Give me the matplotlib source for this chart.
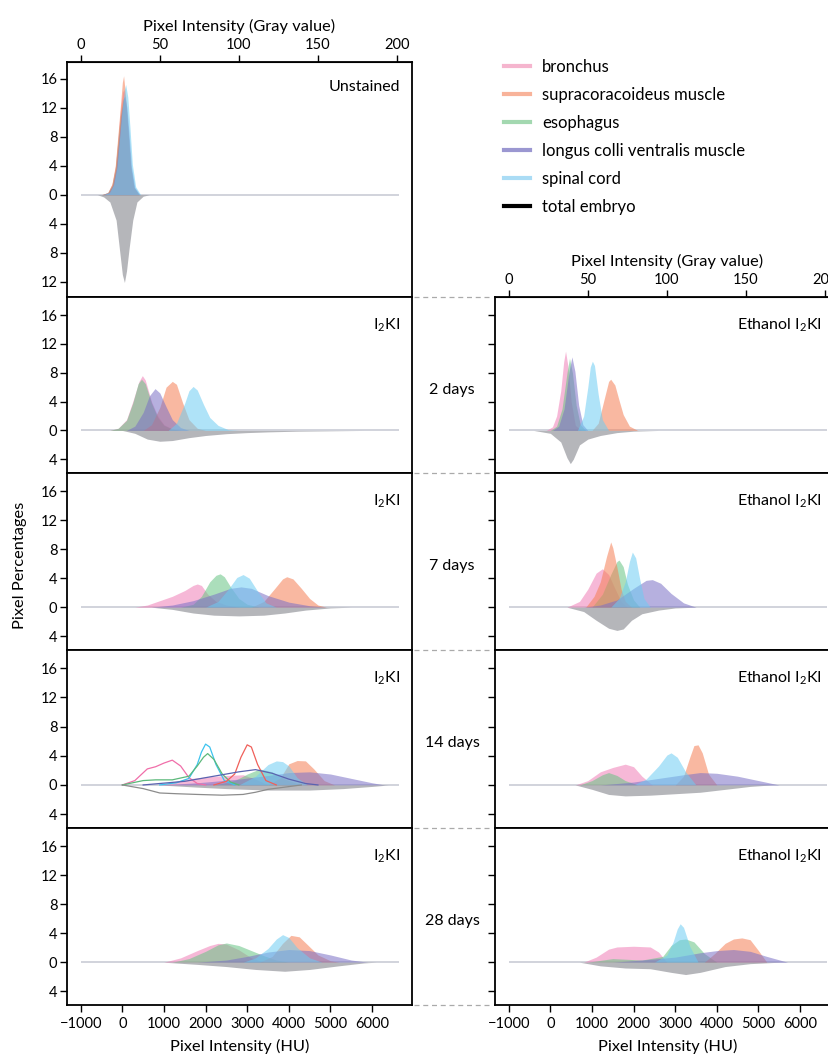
import matplotlib.pyplot as plt
from matplotlib.lines import Line2D

plt.rcParams['font.family'] = ['Lato', 'DejaVu Sans']
plt.rcParams['mathtext.default'] = 'regular'

tissues = ['bronchus', 'supracoracoideus muscle', 'esophagus',
           'longus colli ventralis muscle', 'spinal cord']
fill_colors = ['#f07fb6', '#f57f55', '#67c484', '#7a70c6', '#6dcdf3']
legend_colors = ['#f5b5ce', '#f8b39a', '#a3d8b0', '#9b97d1', '#aadcf5']
embryo_color = '#8e8f96'

days = ['2 days', '7 days', '14 days', '28 days']
hu_ticks = [-1000, 0, 1000, 2000, 3000, 4000, 5000, 6000]
gray_ticks = [0, 50, 100, 150, 200]
hu_span = [-1000, 6650]

# each curve: (HU values, pixel percentage)
# --- unstained ---
unst_pink = ([-500, -350, -250, -170, -110, -50, 10, 40, 90, 140, 200, 280, 400],
             [0, 0.3, 1.4, 3.8, 7.5, 11.5, 14.2, 14.5, 12.5, 8.5, 3.8, 1.0, 0])
unst_orange = ([-500, -350, -250, -170, -110, -50, 0, 30, 80, 130, 200, 280, 400],
               [0, 0.3, 1.5, 4, 8, 12, 15.5, 16.4, 13.5, 9.5, 4, 1, 0])
unst_green = ([-500, -350, -250, -170, -110, -50, 10, 40, 90, 140, 200, 280, 400],
              [0, 0.3, 1.3, 3.6, 7.2, 10.8, 13, 13.5, 12, 8.5, 3.8, 1, 0])
unst_purple = ([-480, -330, -230, -150, -90, -30, 30, 60, 110, 160, 220, 300, 420],
               [0, 0.3, 1.3, 3.6, 7.2, 11, 13.3, 13.6, 12, 8.5, 3.8, 1, 0])
unst_blue = ([-460, -310, -210, -130, -70, -10, 50, 80, 130, 180, 240, 320, 440],
             [0, 0.3, 1.4, 3.8, 7.6, 11.5, 14.5, 15.2, 13.5, 9.5, 4.2, 1.1, 0])
unst_embryo = ([-600, -450, -300, -150, -60, 0, 50, 100, 160, 250, 350, 500, 650],
               [0, 0.3, 1, 3.5, 8, 11, 12.1, 10.5, 7.5, 3.5, 1, 0.2, 0])

# --- I2KI, 2 days ---
i2_d2_pink = ([-300, -100, 100, 250, 400, 480, 550, 700, 850, 1000, 1200, 1400],
              [0, 0.3, 1.5, 4, 6.8, 7.6, 7, 4, 2, 0.8, 0.2, 0])
i2_d2_orange = ([500, 700, 900, 1050, 1200, 1300, 1450, 1600, 1800, 2000],
                [0, 0.8, 3.2, 6, 6.8, 6.4, 3.8, 1.5, 0.3, 0])
i2_d2_green = ([-300, -100, 100, 250, 380, 460, 550, 700, 850, 1000, 1200, 1400],
               [0, 0.3, 1.4, 3.8, 6.5, 7.1, 6.5, 3.8, 1.8, 0.7, 0.2, 0])
i2_d2_purple = ([100, 300, 500, 650, 785, 900, 1050, 1200, 1400, 1600],
                [0, 0.6, 2.5, 4.8, 5.8, 5.2, 3.3, 1.5, 0.4, 0])
i2_d2_blue = ([1100, 1300, 1500, 1600, 1700, 1800, 1950, 2100, 2300, 2550, 2800],
              [0, 1, 3.8, 5.5, 6.1, 5.6, 3.6, 1.8, 0.7, 0.1, 0])
i2_d2_embryo = ([0, 300, 600, 900, 1200, 1600, 2000, 2500, 3000, 3500, 4200, 5000, 5800],
                [0, 0.4, 1.2, 1.5, 1.4, 1.0, 0.7, 0.45, 0.3, 0.2, 0.1, 0.05, 0])

# --- I2KI, 7 days ---
i2_d7_pink = ([300, 600, 900, 1200, 1500, 1700, 1800, 1900, 2050, 2250, 2500, 2800],
              [0, 0.3, 0.9, 1.5, 2.3, 3.0, 3.2, 3.0, 1.8, 0.8, 0.3, 0])
i2_d7_orange = ([3100, 3400, 3650, 3850, 3950, 4100, 4300, 4500, 4700, 4900],
                [0, 0.8, 2.5, 3.9, 4.2, 3.9, 2.6, 1.2, 0.3, 0])
i2_d7_green = ([1400, 1700, 1900, 2100, 2250, 2350, 2450, 2600, 2800, 3000, 3300],
               [0, 0.4, 1.5, 3.5, 4.4, 4.6, 4.2, 2.8, 1.2, 0.4, 0])
i2_d7_purple = ([700, 1200, 1700, 2200, 2600, 2850, 3100, 3500, 4000, 4500, 4900],
                [0, 0.3, 0.9, 1.8, 2.6, 2.8, 2.6, 1.6, 0.7, 0.2, 0])
i2_d7_blue = ([2000, 2300, 2550, 2750, 2900, 3050, 3250, 3450, 3700],
              [0, 0.8, 2.5, 4.1, 4.5, 4.0, 2.2, 0.6, 0])
i2_d7_embryo = ([700, 1200, 1700, 2200, 2800, 3400, 3900, 4400, 5000, 5500],
                [0, 0.3, 0.8, 1.1, 1.2, 1.1, 0.8, 0.4, 0.1, 0])

# --- I2KI, 14 days (filled) ---
i2_d14_pink = ([900, 1500, 2000, 2500, 2900, 3200, 3500],
               [0, 0.8, 1.1, 1.3, 1.4, 0.8, 0])
i2_d14_orange = ([3500, 3800, 4000, 4200, 4400, 4600, 4850, 5100],
                 [0, 1.0, 2.9, 3.35, 3.3, 2.2, 0.6, 0])
i2_d14_green = ([2200, 2700, 3000, 3300, 3600, 3900, 4300],
                [0, 0.6, 1.5, 2.2, 1.8, 0.8, 0])
i2_d14_purple = ([900, 1800, 2800, 3500, 4000, 4500, 5000, 5500, 6000, 6300],
                 [0, 0.3, 0.8, 1.3, 1.7, 1.8, 1.5, 0.9, 0.3, 0])
i2_d14_blue = ([2800, 3200, 3500, 3700, 3850, 4000, 4200, 4450],
               [0, 1.2, 2.8, 3.3, 3.2, 2.6, 1.0, 0])
i2_d14_embryo = ([900, 1800, 2500, 3500, 4500, 5300, 6000, 6400],
                 [0, 0.3, 0.5, 0.7, 0.7, 0.5, 0.2, 0])
# --- I2KI, 14 days (outlines) ---
i2_d14_line_pink = ([0, 300, 600, 800, 1000, 1200, 1400, 1600, 1800, 2000],
                    [0, 0.6, 2.2, 2.5, 3.0, 3.4, 2.6, 1.0, 0.2, 0])
i2_d14_line_cyan = ([900, 1300, 1600, 1800, 1900, 2000, 2100, 2250, 2450, 2700],
                    [0, 0.3, 0.9, 2.8, 4.5, 5.6, 5.2, 2.8, 0.6, 0])
i2_d14_line_green = ([0, 500, 800, 1200, 1600, 1800, 1950, 2050, 2200, 2400, 2600, 2800],
                     [0, 0.6, 0.7, 0.7, 1.2, 2.6, 3.8, 4.3, 3.5, 1.5, 0.4, 0])
i2_d14_line_red = ([2200, 2500, 2700, 2850, 3000, 3100, 3250, 3450, 3700],
                   [0, 0.5, 1.5, 3.8, 5.5, 5.2, 2.8, 0.6, 0])
i2_d14_line_navy = ([500, 1500, 2200, 2800, 3200, 3600, 4000, 4400, 4700],
                    [0, 0.5, 1.2, 1.8, 2.1, 1.6, 0.8, 0.2, 0])
i2_d14_line_gray = ([0, 500, 900, 1300, 1800, 2400, 2900, 3200, 3500, 3900, 4300],
                    [0, 0.5, 1.1, 1.2, 1.3, 1.4, 1.3, 1.0, 0.6, 0.3, 0])

# --- I2KI, 28 days ---
i2_d28_pink = ([1000, 1400, 1800, 2100, 2300, 2500, 2800, 3100, 3400],
               [0, 0.6, 1.6, 2.3, 2.6, 2.5, 1.7, 0.6, 0])
i2_d28_orange = ([3300, 3600, 3850, 4050, 4250, 4450, 4700, 5000, 5200],
                 [0, 0.8, 2.6, 3.7, 3.5, 2.4, 1.0, 0.2, 0])
i2_d28_green = ([1200, 1600, 2000, 2300, 2500, 2800, 3100, 3400, 3700, 4000],
                [0, 0.5, 1.5, 2.4, 2.65, 2.3, 1.6, 0.9, 0.3, 0])
i2_d28_purple = ([1800, 2500, 3000, 3500, 4000, 4500, 5000, 5500, 5900],
                 [0, 0.3, 0.8, 1.4, 1.75, 1.6, 1.0, 0.3, 0])
i2_d28_blue = ([2900, 3200, 3500, 3700, 3850, 4000, 4200, 4500, 4800],
               [0, 0.6, 1.9, 3.2, 3.8, 3.4, 2.0, 0.6, 0])
i2_d28_embryo = ([1000, 1800, 2500, 3200, 3900, 4500, 5200, 5800, 6100],
                 [0, 0.3, 0.6, 1.0, 1.25, 1.0, 0.5, 0.1, 0])

# --- Ethanol I2KI, 2 days ---
et_d2_pink = ([-100, 50, 150, 250, 320, 365, 420, 500, 600, 750],
              [0, 0.5, 2.0, 5.5, 9.5, 11.0, 9.0, 4.0, 0.7, 0])
et_d2_orange = ([1000, 1150, 1300, 1400, 1450, 1550, 1650, 1750, 1900, 2100],
                [0, 1.0, 4.5, 6.8, 7.1, 6.3, 4.2, 2.2, 0.6, 0])
et_d2_green = ([0, 150, 280, 400, 460, 530, 620, 720, 850],
               [0, 0.6, 3, 8, 10, 8, 3.5, 0.8, 0])
et_d2_purple = ([50, 200, 330, 450, 518, 590, 680, 780, 900],
                [0, 0.6, 3, 8.2, 10.2, 8.2, 3.5, 0.8, 0])
et_d2_blue = ([650, 800, 900, 960, 1010, 1060, 1150, 1250, 1400],
              [0, 2.0, 6, 8.8, 9.6, 9.0, 5.0, 1.5, 0])
et_d2_embryo = ([-400, 0, 250, 400, 480, 550, 700, 900, 1200, 1600, 2000, 2600],
                [0, 0.4, 1.6, 3.8, 4.6, 4.0, 2.0, 1.2, 0.7, 0.3, 0.1, 0])

# --- Ethanol I2KI, 7 days ---
et_d7_pink = ([400, 700, 900, 1100, 1250, 1400, 1550, 1700, 1850],
              [0, 0.8, 2.5, 4.7, 5.3, 4.5, 2.6, 0.8, 0])
et_d7_orange = ([850, 1050, 1200, 1350, 1450, 1500, 1600, 1700, 1800, 1950],
                [0, 1.5, 3.5, 7, 9.0, 8.2, 5.5, 2.5, 0.8, 0])
et_d7_green = ([1000, 1250, 1450, 1600, 1650, 1750, 1850, 2000, 2150],
               [0, 1.8, 4.5, 6.3, 6.5, 5.6, 3.2, 1.0, 0])
et_d7_purple = ([800, 1200, 1600, 2000, 2300, 2450, 2650, 2900, 3200, 3500],
                [0, 0.3, 1.0, 2.6, 3.7, 3.8, 3.3, 1.9, 0.6, 0])
et_d7_blue = ([1450, 1650, 1800, 1900, 1970, 2050, 2150, 2250, 2400],
              [0, 1.2, 3.5, 6.3, 7.6, 6.8, 3.8, 1.2, 0])
et_d7_embryo = ([400, 800, 1100, 1400, 1600, 1750, 1950, 2200, 2600, 3000, 3500],
                [0, 0.6, 1.8, 2.9, 3.2, 3.0, 1.8, 0.9, 0.4, 0.1, 0])

# --- Ethanol I2KI, 14 days ---
et_d14_pink = ([600, 900, 1200, 1500, 1800, 2000, 2200, 2450],
               [0, 0.6, 1.8, 2.4, 2.85, 2.5, 1.2, 0])
et_d14_orange = ([3000, 3200, 3350, 3450, 3550, 3650, 3800, 4000],
                 [0, 1.2, 3.8, 5.4, 5.5, 4.4, 1.5, 0])
et_d14_green = ([700, 1000, 1250, 1400, 1600, 1800, 2100],
                [0, 0.6, 1.4, 1.7, 1.3, 0.6, 0])
et_d14_purple = ([1200, 2000, 2600, 3200, 3600, 4000, 4500, 5000, 5500],
                 [0, 0.4, 0.9, 1.4, 1.7, 1.6, 1.2, 0.6, 0])
et_d14_blue = ([2000, 2300, 2600, 2800, 2900, 3050, 3250, 3500],
               [0, 0.8, 2.6, 4.1, 4.4, 3.8, 1.8, 0])
et_d14_embryo = ([600, 1000, 1400, 1800, 2400, 3000, 3600, 4200, 4800, 5300],
                 [0, 0.6, 1.3, 1.5, 1.4, 1.2, 1.0, 0.6, 0.2, 0])

# --- Ethanol I2KI, 28 days ---
et_d28_pink = ([800, 1100, 1400, 1600, 2000, 2400, 2600, 2800],
               [0, 0.7, 1.8, 2.1, 2.2, 2.1, 1.4, 0])
et_d28_orange = ([3700, 3950, 4200, 4400, 4600, 4800, 5000, 5200],
                 [0, 1.2, 2.6, 3.2, 3.35, 3.1, 1.6, 0])
et_d28_green = ([900, 1500, 2200, 2700, 2900, 3100, 3250, 3450, 3700, 4000],
                [0, 0.5, 0.3, 0.8, 2.3, 3.1, 3.2, 2.8, 1.2, 0])
et_d28_purple = ([1500, 2200, 3000, 3600, 4000, 4400, 4800, 5200, 5700],
                 [0, 0.3, 0.7, 1.3, 1.6, 1.75, 1.5, 0.8, 0])
et_d28_blue = ([2500, 2800, 2950, 3050, 3120, 3200, 3350, 3550],
               [0, 1.0, 2.8, 4.6, 5.3, 4.8, 2.2, 0])
et_d28_embryo = ([700, 1200, 1800, 2400, 2900, 3250, 3600, 4200, 4800, 5500],
                 [0, 0.5, 0.8, 0.9, 1.4, 1.7, 1.4, 0.6, 0.2, 0])

left_panels = [
    [i2_d2_pink, i2_d2_orange, i2_d2_green, i2_d2_purple, i2_d2_blue, i2_d2_embryo],
    [i2_d7_pink, i2_d7_orange, i2_d7_green, i2_d7_purple, i2_d7_blue, i2_d7_embryo],
    [i2_d14_pink, i2_d14_orange, i2_d14_green, i2_d14_purple, i2_d14_blue, i2_d14_embryo],
    [i2_d28_pink, i2_d28_orange, i2_d28_green, i2_d28_purple, i2_d28_blue, i2_d28_embryo],
]
right_panels = [
    [et_d2_pink, et_d2_orange, et_d2_green, et_d2_purple, et_d2_blue, et_d2_embryo],
    [et_d7_pink, et_d7_orange, et_d7_green, et_d7_purple, et_d7_blue, et_d7_embryo],
    [et_d14_pink, et_d14_orange, et_d14_green, et_d14_purple, et_d14_blue, et_d14_embryo],
    [et_d28_pink, et_d28_orange, et_d28_green, et_d28_purple, et_d28_blue, et_d28_embryo],
]
d14_outlines = [i2_d14_line_pink, i2_d14_line_cyan, i2_d14_line_green,
                i2_d14_line_red, i2_d14_line_navy]
d14_outline_colors = ['#f06ea9', '#3cc3ef', '#5cb97b', '#f0605a', '#5a63b0']


def hu2gray(h):
    return (h + 1000) / 38.0


def gray2hu(g):
    return g * 38.0 - 1000


def draw_panel(ax, curves, ylim, yticks):
    ax.hlines(0, hu_span[0], hu_span[1], color='#c9ccd6', lw=1.2, zorder=1)
    order = [0, 2, 1, 3, 4]
    for i in order:
        x, y = curves[i]
        ax.fill_between(x, 0, y, color=fill_colors[i], alpha=0.55, lw=0, zorder=2)
    ex, ey = curves[5]
    ax.fill_between(ex, 0, [-v for v in ey], color=embryo_color, alpha=0.65, lw=0, zorder=2)
    ax.set_xlim(-1330, 6960)
    ax.set_ylim(*ylim)
    ax.set_yticks(yticks)
    ax.set_yticklabels([str(abs(t)) for t in yticks])
    ax.tick_params(axis='y', direction='out', length=5, width=1, labelsize=10.5, pad=2)
    ax.tick_params(axis='x', direction='out', length=5, width=1, labelsize=10.5,
                   bottom=False, labelbottom=False)
    for s in ax.spines.values():
        s.set_linewidth(1.3)


fig = plt.figure(figsize=(8.29, 10.60), dpi=100)
W, H = 829.0, 1060.0
ax_w = 345 / W
row_edges = [297, 473, 650, 828, 1005]
lower_ylim = (-5.9, 18.5)
lower_ticks = [16, 12, 8, 4, 0, -4]
label_fs = 11.8
panel_fs = 11.5

# unstained panel
ax0 = fig.add_axes([67 / W, 1 - 297 / H, ax_w, 235 / H])
draw_panel(ax0, [unst_pink, unst_orange, unst_green, unst_purple, unst_blue, unst_embryo],
           (-14.1, 18.3), [16, 12, 8, 4, 0, -4, -8, -12])
ax0.text(0.965, 0.895, 'Unstained', transform=ax0.transAxes, ha='right', va='center',
         fontsize=panel_fs)
sec = ax0.secondary_xaxis('top', functions=(hu2gray, gray2hu))
sec.set_xticks(gray_ticks)
sec.tick_params(direction='out', length=5, width=1, labelsize=10.5, pad=2)
sec.set_xlabel('Pixel Intensity (Gray value)', fontsize=label_fs, labelpad=5)

for r in range(4):
    top, bot = row_edges[r], row_edges[r + 1]
    axl = fig.add_axes([67 / W, 1 - bot / H, ax_w, (bot - top) / H])
    axr = fig.add_axes([495 / W, 1 - bot / H, ax_w, (bot - top) / H])
    draw_panel(axl, left_panels[r], lower_ylim, lower_ticks)
    draw_panel(axr, right_panels[r], lower_ylim, lower_ticks)
    axr.tick_params(axis='y', labelleft=False)
    axl.text(0.965, 0.84, 'I$_2$KI', transform=axl.transAxes, ha='right', va='center',
             fontsize=panel_fs)
    axr.text(0.948, 0.84, 'Ethanol I$_2$KI', transform=axr.transAxes, ha='right', va='center',
             fontsize=panel_fs)
    fig.text(452 / W, 1 - (top + 93) / H, days[r], ha='center', va='center', fontsize=panel_fs)
    if r == 2:
        for (x, y), c in zip(d14_outlines, d14_outline_colors):
            axl.plot(x, y, color=c, lw=0.9, zorder=3)
        gx, gy = i2_d14_line_gray
        axl.plot(gx, [-v for v in gy], color='#8c8c8c', lw=0.9, zorder=3)
    if r == 0:
        sec_r = axr.secondary_xaxis('top', functions=(hu2gray, gray2hu))
        sec_r.set_xticks(gray_ticks)
        sec_r.tick_params(direction='out', length=5, width=1, labelsize=10.5, pad=2)
        sec_r.set_xlabel('Pixel Intensity (Gray value)', fontsize=label_fs, labelpad=5)
    if r == 3:
        for a in (axl, axr):
            a.set_xticks(hu_ticks)
            a.set_xticklabels(['\u22121000'] + [str(t) for t in hu_ticks[1:]])
            a.tick_params(axis='x', bottom=True, labelbottom=True)
            a.set_xlabel('Pixel Intensity (HU)', fontsize=label_fs, labelpad=6)

# dashed connectors between columns
for yy in row_edges:
    fig.add_artist(Line2D([414 / W, 490 / W], [1 - yy / H, 1 - yy / H], color='#aaaaaa',
                          lw=0.9, ls=(0, (4, 3))))

fig.text(20 / W, 1 - 565 / H, 'Pixel Percentages', rotation=90, ha='center', va='center',
         fontsize=label_fs)

handles = [Line2D([], [], color=c, lw=3) for c in legend_colors]
handles.append(Line2D([], [], color='black', lw=3))
fig.legend(handles, tissues + ['total embryo'], loc='upper left',
           bbox_to_anchor=(497 / W, 1 - 52 / H), frameon=False, fontsize=12,
           handlelength=1.6, handletextpad=0.7, labelspacing=0.72, borderaxespad=0)

fig.savefig('out.png', dpi=100)
